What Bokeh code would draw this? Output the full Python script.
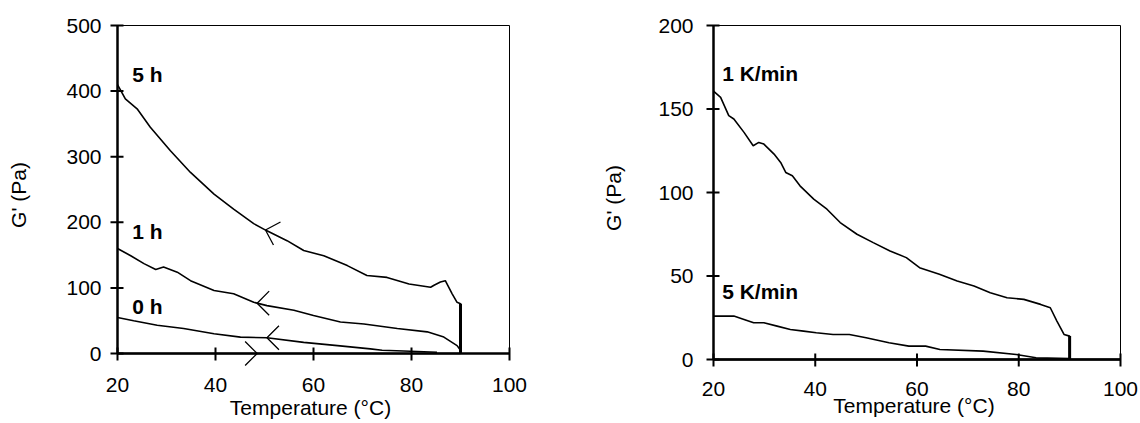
import numpy as np
from bokeh.plotting import figure
from bokeh.layouts import row
from bokeh.models import Range1d, FixedTicker, PolyAnnotation
from bokeh.core.properties import value
from bokeh.embed import file_html
from bokeh.resources import INLINE

FONT = "Liberation Sans"

# ---------------- Left panel data: G' vs temperature, cooling after hold time ----------------
t5h = [20, 21.6, 24, 26.7, 30.8, 34.9, 39.7, 43.7, 47.8, 50.5, 54.6, 58, 62.1, 66.9, 70.9, 75,
       79.5, 83.9, 84.6, 85.9, 86.9, 88.3, 89.3, 90, 90]
g5h = [410, 388, 373, 345, 309, 276, 243, 220, 198, 187, 172, 157, 149, 134, 119, 116,
       106, 101, 104, 109, 111, 91, 78, 76, 0]

t1h = [20, 22.7, 25.4, 27.8, 29.4, 32.2, 34.9, 39.7, 43.7, 47.8, 50.5, 56, 60, 65.5, 70.3,
       77.1, 83.2, 86.6, 89.3, 90]
g1h = [160, 149, 137, 128, 132, 124, 111, 96, 91, 78, 73, 66, 58, 48, 45, 38, 33, 25, 12, 5]

t0h = [20, 23.3, 28.1, 33.5, 39.7, 45.1, 50.5, 58, 64.9, 71.6, 74, 79.8, 85.2]
g0h = [55, 50, 43, 38, 30, 25, 24, 17, 12, 7, 5, 3.5, 2]

t_heat = [20, 90]
g_heat = [0, 0]

left_labels = ["5 h", "1 h", "0 h"]
left_label_x = [23, 23, 23]
left_label_y = [426, 186, 72]

# arrow markers (tip temperature on each curve)
left_arrow_t = [50.2, 48.5, 50.5, 48.5]

# ---------------- Right panel data: cooling rates ----------------
t1k = [20, 21.4, 23, 24, 26, 27.8, 28.9, 29.9, 31.9, 33.2, 34.2, 35.5, 37, 39.7, 42.3, 44.9,
       48.2, 51.4, 54.7, 57.9, 60.5, 64.4, 67.9, 71.2, 74.4, 77.7, 81, 84.3, 86.2, 87.5, 88.9,
       90, 90]
g1k = [160.7, 157, 146, 144, 136, 128, 130, 129, 123, 118, 112, 110, 104, 96, 90, 82,
       75, 70, 65, 61, 55, 51, 47, 44, 40, 37, 36, 33, 31, 23, 15, 14, 0]

t5k = [20, 24, 26, 27.9, 29.9, 32.5, 35.1, 37.7, 40.2, 43.5, 46.7, 50, 54.5, 58.4, 61.7,
       64.5, 73, 79.5, 83.4, 90]
g5k = [26, 26, 24, 22, 22, 20, 18, 17, 16, 15, 15, 13, 10, 8, 8, 6, 5, 3, 1, 0.5]

t_heat_r = [20, 100]
g_heat_r = [0, 0]

right_labels = ["1 K/min", "5 K/min"]
right_label_x = [21.7, 21.7]
right_label_y = [171.5, 40.8]

x_ticks = [20, 40, 60, 80, 100]
left_y_ticks = [0, 100, 200, 300, 400, 500]
right_y_ticks = [0, 50, 100, 150, 200]

# ---------------- geometry (pixels) ----------------
PAD_L, PAD_B, PAD_T, PAD_R = 8, 13, 2, 2     # frame padding around the axis box
TICK_IN, TICK_OUT = 6, 7


def make_panel(box_w, box_h, xlim, ylim, border_left, border_right, border_top,
               xticks, yticks, ystand, ylab_stand, xstand, xlab_stand):
    kx = box_w / (xlim[1] - xlim[0])
    ky = box_h / (ylim[1] - ylim[0])
    xr = Range1d(xlim[0] - PAD_L / kx, xlim[1] + PAD_R / kx)
    yr = Range1d(ylim[0] - PAD_B / ky, ylim[1] + PAD_T / ky)
    p = figure(frame_width=box_w + PAD_L + PAD_R, frame_height=box_h + PAD_B + PAD_T,
               x_range=xr, y_range=yr, output_backend="svg", toolbar_location=None,
               min_border_left=border_left, min_border_right=border_right,
               min_border_top=border_top, min_border_bottom=10)
    p.xgrid.visible = False
    p.ygrid.visible = False
    p.outline_line_color = None
    p.background_fill_color = "white"
    p.border_fill_color = "white"
    p.xaxis.ticker = FixedTicker(ticks=xticks)
    p.yaxis.ticker = FixedTicker(ticks=yticks)
    for ax in (p.xaxis, p.yaxis):
        ax.axis_line_color = None
        ax.major_tick_line_color = None
        ax.major_tick_in = 0
        ax.major_tick_out = 0
        ax.minor_tick_line_color = None
        ax.minor_tick_in = 0
        ax.minor_tick_out = 0
        ax.major_label_text_font = FONT
        ax.major_label_text_font_size = "21px"
        ax.major_label_text_color = "black"
        ax.axis_label_text_font = FONT
        ax.axis_label_text_font_size = "21px"
        ax.axis_label_text_font_style = "normal"
        ax.axis_label_text_color = "black"
    p.xaxis.axis_label = "Temperature (°C)"
    p.yaxis.axis_label = "G' (Pa)"
    p.yaxis.major_label_standoff = ystand
    p.yaxis.axis_label_standoff = ylab_stand
    p.xaxis.major_label_standoff = xstand
    p.xaxis.axis_label_standoff = xlab_stand

    x0, x1 = xlim
    y0, y1 = ylim
    # axis box: thick left/bottom axes, thin top/right border
    p.line([x0, x1], [y1, y1], line_color="black", line_width=1)
    p.line([x1, x1], [y0, y1], line_color="black", line_width=1)
    p.line([x0, x1], [y0, y0], line_color="black", line_width=2.5)
    p.line([x0, x0], [y0, y1], line_color="black", line_width=2.5)
    # tick marks crossing the axes
    p.segment(x0=xticks, y0=[y0 - TICK_OUT / ky] * len(xticks),
              x1=xticks, y1=[y0 + TICK_IN / ky] * len(xticks),
              line_color="black", line_width=2)
    p.segment(x0=[x0 - TICK_OUT / kx] * len(yticks), y0=yticks,
              x1=[x0 + TICK_IN / kx] * len(yticks), y1=yticks,
              line_color="black", line_width=2)
    return p, kx, ky


def chevron(p, tx, ty, direction_deg, kx, ky, arm=17, half=45):
    # open arrow head drawn as an unfilled path: arm end -> tip -> arm end -> tip
    pts_x, pts_y = [], []
    for d in (half, -half):
        a = np.deg2rad(direction_deg + d)
        pts_x += [tx + arm * np.cos(a) / kx, tx]
        pts_y += [ty + arm * np.sin(a) / ky, ty]
    p.add_layout(PolyAnnotation(xs=pts_x, ys=pts_y, fill_alpha=0, line_color="black",
                                line_alpha=1.0, line_width=1.3))


lw = 1.6

# ---------------- Left figure ----------------
p1, kx1, ky1 = make_panel(392, 328, (20, 100), (0, 500), border_left=117 - PAD_L,
                          border_right=38, border_top=25 - PAD_T,
                          xticks=x_ticks, yticks=left_y_ticks,
                          ystand=8, ylab_stand=33, xstand=11, xlab_stand=1)

p1.line(t_heat, g_heat, line_color="black", line_width=lw)
p1.line(t0h, g0h, line_color="black", line_width=lw)
p1.line(t1h, g1h, line_color="black", line_width=lw)
p1.line(t5h, g5h, line_color="black", line_width=lw)
p1.line([90, 90], [0, 76], line_color="black", line_width=3)

p1.text(x=left_label_x, y=left_label_y, text=left_labels, text_font=value(FONT),
        text_font_style="bold", text_font_size="21px", text_baseline="middle",
        text_align="left", text_color="black")

curves = [(t5h[:-1], g5h[:-1]), (t1h, g1h), (t0h, g0h), (t_heat, g_heat)]
dirs = [-17, 0, 0, 180]
for tt, (cx, cy), dd in zip(left_arrow_t, curves, dirs):
    chevron(p1, tt, float(np.interp(tt, cx, cy)), dd, kx1, ky1)

# ---------------- Right figure ----------------
p2, kx2, ky2 = make_panel(407, 334, (20, 100), (0, 200), border_left=713 - PAD_L - 549,
                          border_right=18, border_top=25 - PAD_T,
                          xticks=x_ticks, yticks=right_y_ticks,
                          ystand=12, ylab_stand=30, xstand=9, xlab_stand=-5)

p2.line(t_heat_r, g_heat_r, line_color="black", line_width=2)
p2.line(t5k, g5k, line_color="black", line_width=lw)
p2.line(t1k, g1k, line_color="black", line_width=lw)
p2.line([90, 90], [0, 14], line_color="black", line_width=3)

p2.text(x=right_label_x, y=right_label_y, text=right_labels, text_font=value(FONT),
        text_font_style="bold", text_font_size="21px", text_baseline="middle",
        text_align="left", text_color="black")

layout = row(p1, p2)
open("out.html", "w").write(file_html(layout, INLINE))
